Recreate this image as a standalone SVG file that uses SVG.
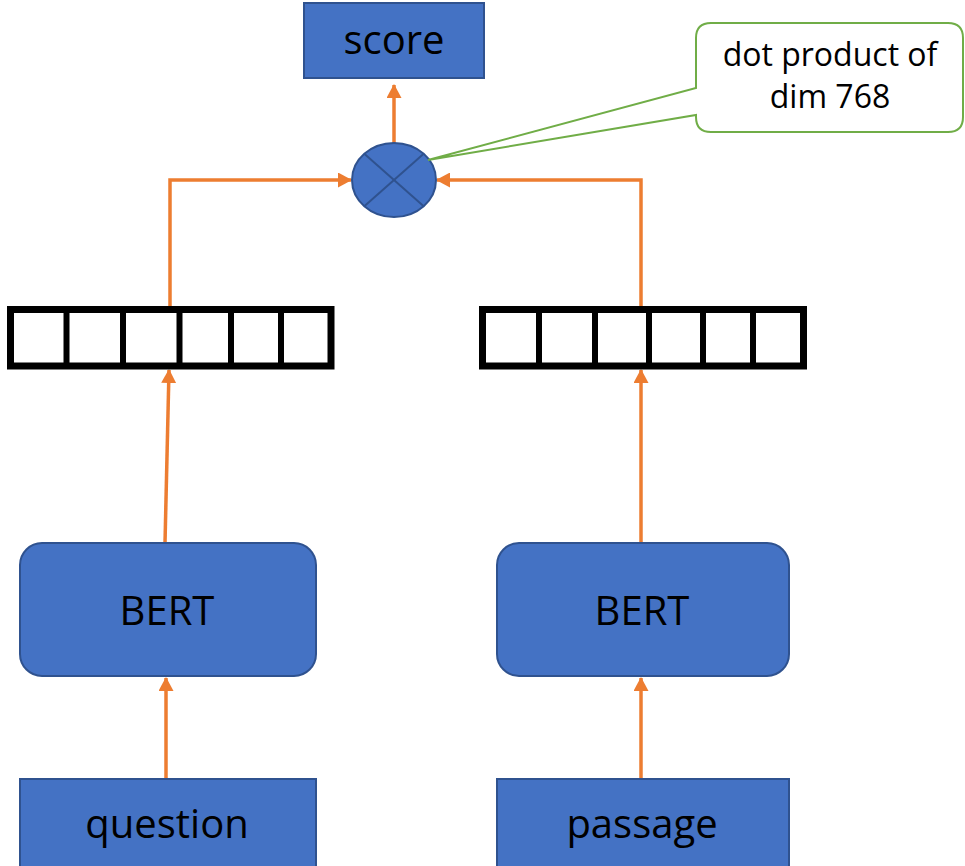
<svg xmlns="http://www.w3.org/2000/svg" width="965" height="866" viewBox="0 0 965 866">
  <style>
    .box { fill: #4472C4; stroke: #2F528F; stroke-width: 2; }
    .lbl { font-family: "Open Sans", "Noto Sans", sans-serif; font-size: 40px; fill: #000; text-anchor: middle; }
    .note { font-family: "Open Sans", "Noto Sans", sans-serif; font-size: 32px; fill: #000; text-anchor: middle; }
    .vec { fill: #fff; stroke: #000; stroke-width: 7; }
    .cell { stroke: #000; stroke-width: 6; }
    .edge { fill: none; stroke: #ED7D31; stroke-width: 3.5; }
  </style>
  <defs>
    <marker id="arrow" viewBox="0 0 14 15" refX="13" refY="7.5" markerWidth="14" markerHeight="15" markerUnits="userSpaceOnUse" orient="auto">
      <path d="M0,0 L14,7.5 L0,15 Z" fill="#ED7D31"/>
    </marker>
  </defs>

  <rect width="965" height="866" fill="#fff"/>

  <!-- connectors -->
  <g id="connectors">
    <line class="edge" x1="166" y1="779" x2="166" y2="678" marker-end="url(#arrow)"/>
    <line class="edge" x1="641" y1="779" x2="641" y2="678" marker-end="url(#arrow)"/>
    <line class="edge" x1="165" y1="543" x2="169" y2="370" marker-end="url(#arrow)"/>
    <line class="edge" x1="641" y1="543" x2="641" y2="370" marker-end="url(#arrow)"/>
    <polyline class="edge" points="170,306 170,180 351,180" marker-end="url(#arrow)"/>
    <polyline class="edge" points="641,306 641,180 437,180" marker-end="url(#arrow)"/>
    <line class="edge" x1="394" y1="143" x2="394" y2="85" marker-end="url(#arrow)"/>
  </g>

  <!-- inputs -->
  <g id="question">
    <rect class="box" x="20" y="779" width="296" height="92"/>
    <text class="lbl" x="167" y="838">question</text>
  </g>
  <g id="passage">
    <rect class="box" x="497" y="779" width="292" height="92"/>
    <text class="lbl" x="642" y="838">passage</text>
  </g>

  <!-- encoders -->
  <g id="bert-question">
    <rect class="box" x="20" y="543" width="296" height="133" rx="22"/>
    <text class="lbl" x="167" y="625">BERT</text>
  </g>
  <g id="bert-passage">
    <rect class="box" x="497" y="543" width="292" height="133" rx="22"/>
    <text class="lbl" x="642" y="625">BERT</text>
  </g>

  <!-- embedding vectors -->
  <g id="vec-question">
    <rect class="vec" x="10.5" y="309.5" width="320.5" height="56.5"/>
    <line class="cell" x1="66.5" y1="309" x2="66.5" y2="366"/>
    <line class="cell" x1="123" y1="309" x2="123" y2="366"/>
    <line class="cell" x1="179.5" y1="309" x2="179.5" y2="366"/>
    <line class="cell" x1="231" y1="309" x2="231" y2="366"/>
    <line class="cell" x1="281" y1="309" x2="281" y2="366"/>
  </g>
  <g id="vec-passage">
    <rect class="vec" x="482.5" y="309.5" width="321" height="56.5"/>
    <line class="cell" x1="539" y1="309" x2="539" y2="366"/>
    <line class="cell" x1="595" y1="309" x2="595" y2="366"/>
    <line class="cell" x1="649" y1="309" x2="649" y2="366"/>
    <line class="cell" x1="703" y1="309" x2="703" y2="366"/>
    <line class="cell" x1="753" y1="309" x2="753" y2="366"/>
  </g>

  <!-- dot product operator -->
  <g id="dot">
    <ellipse class="box" cx="394" cy="180" rx="42" ry="37"/>
    <line x1="364.3" y1="153.8" x2="423.7" y2="206.2" stroke="#2F528F" stroke-width="2"/>
    <line x1="423.7" y1="153.8" x2="364.3" y2="206.2" stroke="#2F528F" stroke-width="2"/>
  </g>

  <!-- output -->
  <g id="score">
    <rect class="box" x="304" y="3" width="180" height="75"/>
    <text class="lbl" x="394" y="54">score</text>
  </g>

  <!-- callout -->
  <g id="callout">
    <path d="M711,23 H948 Q963,23 963,38 V117 Q963,132 948,132 H711 Q696,132 696,117 V115 L428,160 L696,88 V38 Q696,23 711,23 Z" fill="#fff" stroke="#70AD47" stroke-width="2"/>
    <text class="note" x="830" y="66">dot product of</text>
    <text class="note" x="830" y="108">dim 768</text>
  </g>
</svg>
